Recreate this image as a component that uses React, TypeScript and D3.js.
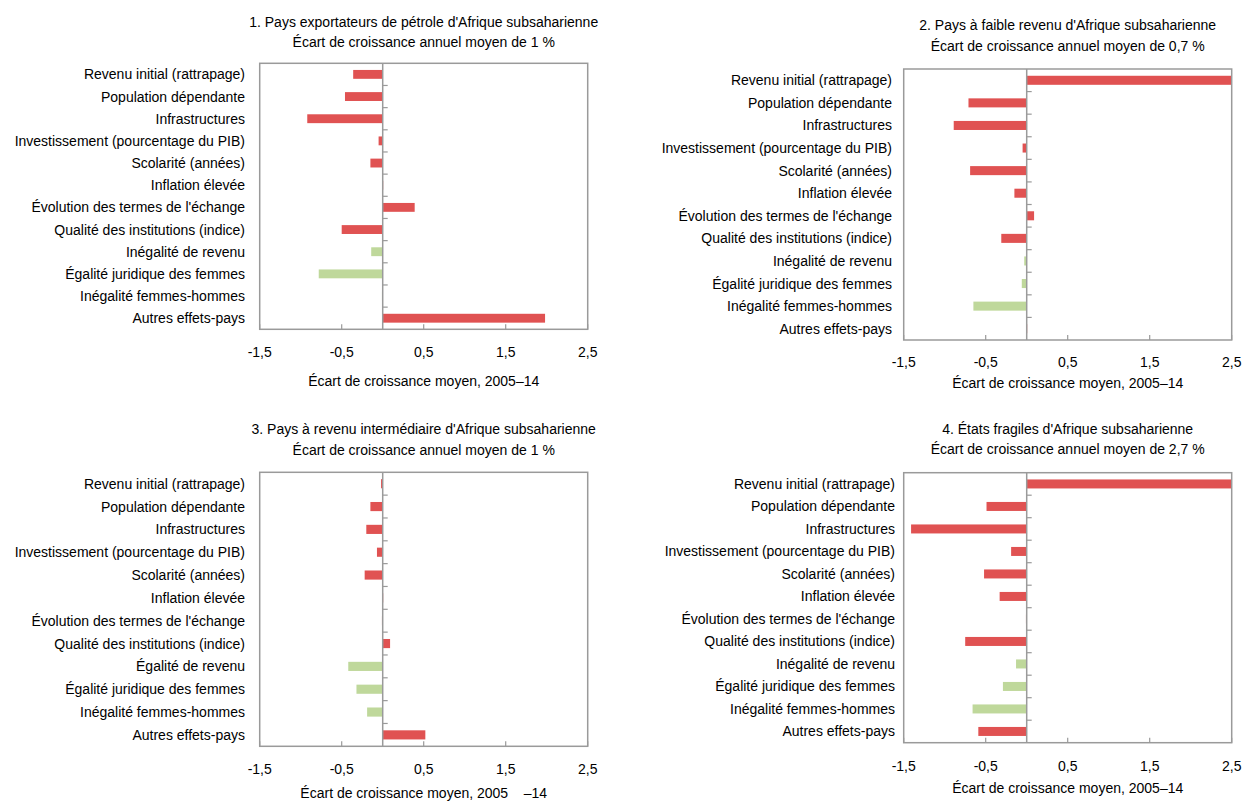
import React from "react";
import * as d3 from "d3";

const categoriesA = [
  "Revenu initial (rattrapage)",
  "Population dépendante",
  "Infrastructures",
  "Investissement (pourcentage du PIB)",
  "Scolarité (années)",
  "Inflation élevée",
  "Évolution des termes de l'échange",
  "Qualité des institutions (indice)",
  "Inégalité de revenu",
  "Égalité juridique des femmes",
  "Inégalité femmes-hommes",
  "Autres effets-pays",
];
const categoriesB = [
  "Revenu initial (rattrapage)",
  "Population dépendante",
  "Infrastructures",
  "Investissement (pourcentage du PIB)",
  "Scolarité (années)",
  "Inflation élevée",
  "Évolution des termes de l'échange",
  "Qualité des institutions (indice)",
  "Égalité de revenu",
  "Égalité juridique des femmes",
  "Inégalité femmes-hommes",
  "Autres effets-pays",
];
// "r" = economic factors (red), "g" = gender/inequality factors (green)
const categoryGroups = ["r", "r", "r", "r", "r", "r", "r", "r", "g", "g", "g", "r"];

const valuesOil = [-0.36, -0.46, -0.92, -0.05, -0.15, 0, 0.39, -0.5, -0.14, -0.78, -0.01, 1.98];
const valuesLowIncome = [2.5, -0.71, -0.89, -0.05, -0.69, -0.15, 0.09, -0.31, -0.03, -0.06, -0.65, 0.01];
const valuesMidIncome = [-0.02, -0.15, -0.2, -0.07, -0.22, 0, -0.01, 0.09, -0.42, -0.32, -0.19, 0.52];
const valuesFragile = [2.5, -0.49, -1.41, -0.19, -0.52, -0.33, -0.01, -0.75, -0.13, -0.29, -0.66, -0.59];

const titlesOil = ["1. Pays exportateurs de pétrole d'Afrique subsaharienne", "Écart de croissance annuel moyen de 1 %"];
const titlesLowIncome = ["2. Pays à faible revenu d'Afrique subsaharienne", "Écart de croissance annuel moyen de 0,7 %"];
const titlesMidIncome = ["3. Pays à revenu intermédiaire d'Afrique subsaharienne", "Écart de croissance annuel moyen de 1 %"];
const titlesFragile = ["4. États fragiles d'Afrique subsaharienne", "Écart de croissance annuel moyen de 2,7 %"];

const xTickValues = [-1.5, -0.5, 0.5, 1.5, 2.5];
const xDomain = [-1.5, 2.5];
const axisTitle = "Écart de croissance moyen, 2005–14";
const axisTitleGap = "Écart de croissance moyen, 2005\u00a0\u00a0\u00a0\u00a0–14";

const RED = "#E05252";
const GREEN = "#BFD89B";
const FRAME = "#9a9a9a";
const FONT = "'Liberation Sans', Arial, sans-serif";
const FS = 14;

type PanelProps = {
  cats: string[];
  values: number[];
  titles: string[];
  xAxisTitle: string;
  x0: number; x1: number; y0: number; y1: number;
  labelRight: number;
  titleY: [number, number];
  tickY: number;
  axisTitleY: number;
};

function Panel(p: PanelProps) {
  const x = d3.scaleLinear().domain(xDomain).range([p.x0, p.x1]).clamp(true);
  const y = d3.scaleBand<string>().domain(p.cats).range([p.y0, p.y1]).paddingInner(0).paddingOuter(0);
  const bw = y.bandwidth();
  const barH = bw * 0.4;
  const zx = x(0);
  const cx = (p.x0 + p.x1) / 2;
  const fmt = (v: number) => d3.format(".1f")(v).replace(".", ",").replace("−", "-");
  return (
    <g fontFamily={FONT} fill="#000">
      {p.titles.map((t, i) => (
        <text key={i} x={cx} y={p.titleY[i]} textAnchor="middle" dominantBaseline="central" fontSize={FS}>{t}</text>
      ))}
      {p.cats.map((c) => (
        <text key={c} x={p.labelRight} y={(y(c) as number) + bw / 2} textAnchor="end" dominantBaseline="central" fontSize={FS}>{c}</text>
      ))}
      {p.cats.map((c, i) => {
        const v = p.values[i];
        const xa = x(Math.min(0, v));
        const xb = x(Math.max(0, v));
        return (
          <rect key={c} x={xa} y={(y(c) as number) + bw / 2 - barH / 2} width={Math.max(0.8, xb - xa)} height={barH}
            fill={categoryGroups[i] === "g" ? GREEN : RED} opacity={Math.abs(v) < 0.02 ? 0.35 : 1} />
        );
      })}
      <rect x={p.x0} y={p.y0} width={p.x1 - p.x0} height={p.y1 - p.y0} fill="none" stroke={FRAME} strokeWidth={1.5} />
      <line x1={zx} x2={zx} y1={p.y0} y2={p.y1} stroke={FRAME} strokeWidth={1.5} />
      {p.cats.slice(1).map((c) => (
        <line key={c} x1={zx} x2={zx + 5} y1={y(c) as number} y2={y(c) as number} stroke={FRAME} strokeWidth={1.2} />
      ))}
      {xTickValues.map((t) => (
        <line key={t} x1={x(t)} x2={x(t)} y1={p.y1} y2={p.y1 - 5} stroke={FRAME} strokeWidth={1.2} />
      ))}
      {xTickValues.map((t) => (
        <text key={"l" + t} x={x(t)} y={p.tickY} textAnchor="middle" dominantBaseline="central" fontSize={FS}>{fmt(t)}</text>
      ))}
      <text x={cx} y={p.axisTitleY} textAnchor="middle" dominantBaseline="central" fontSize={FS}>{p.xAxisTitle}</text>
    </g>
  );
}

export default function App() {
  return (
    <svg width={1244} height={802} style={{ position: "absolute", left: 0, top: 0, background: "#fff" }}>
      <Panel cats={categoriesA} values={valuesOil} titles={titlesOil} xAxisTitle={axisTitle}
        x0={259.7} x1={587.7} y0={63.3} y1={329.3} labelRight={245} titleY={[22, 42]} tickY={352} axisTitleY={381} />
      <Panel cats={categoriesA} values={valuesLowIncome} titles={titlesLowIncome} xAxisTitle={axisTitle}
        x0={903.7} x1={1231.7} y0={69} y1={340} labelRight={892} titleY={[25, 46]} tickY={362} axisTitleY={383} />
      <Panel cats={categoriesB} values={valuesMidIncome} titles={titlesMidIncome} xAxisTitle={axisTitleGap}
        x0={259.7} x1={587.7} y0={472.3} y1={746.3} labelRight={245} titleY={[429, 450]} tickY={769} axisTitleY={793} />
      <Panel cats={categoriesA} values={valuesFragile} titles={titlesFragile} xAxisTitle={axisTitle}
        x0={903.7} x1={1231.7} y0={472.7} y1={742.7} labelRight={895} titleY={[429, 449]} tickY={766} axisTitleY={788} />
    </svg>
  );
}
